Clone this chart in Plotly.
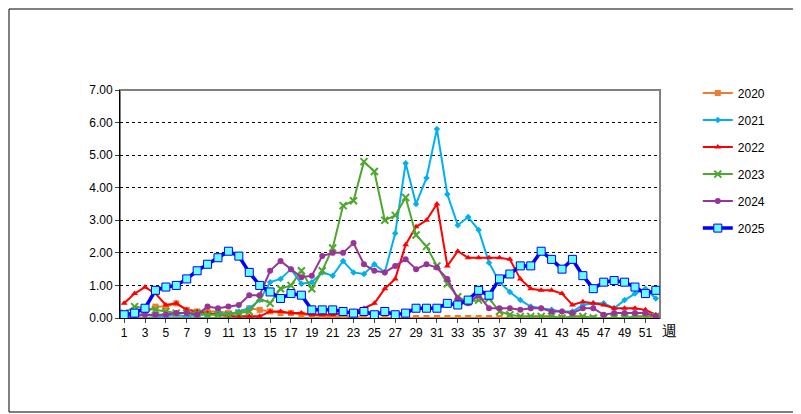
import plotly.graph_objects as go

weeks = list(range(1, 53))
s2020 = [0.1,0.1,0.15,0.35,0.35,0.45,0.25,0.2,0.2,0.2,0.15,0.15,0.3,0.25,0.2,0.15,0.15,0.1,0.1,0.05,0.05,0.05,0.05]+[0.0]*29
s2021 = [0.05,0.1,0.1,0.05,0.05,0.1,0.05,0.1,0.1,0.15,0.1,0.2,0.3,0.55,1.1,1.2,1.5,1.05,1.1,1.4,1.3,1.75,1.4,1.35,1.65,1.4,2.6,4.75,3.5,4.3,5.8,3.8,2.85,3.1,2.7,1.7,1.1,0.8,0.55,0.35,0.3,0.25,0.2,0.2,0.4,0.45,0.45,0.3,0.55,0.75,0.9,0.6]
s2022 = [0.45,0.75,0.95,0.75,0.4,0.45,0.25,0.2,0.15,0.1,0.05,0.05,0.05,0.05,0.2,0.2,0.15,0.15,0.1,0.1,0.1,0.15,0.2,0.3,0.45,0.9,1.2,2.25,2.8,3.0,3.5,1.6,2.05,1.85,1.85,1.85,1.85,1.8,1.2,0.9,0.85,0.85,0.75,0.4,0.5,0.45,0.4,0.3,0.3,0.3,0.25,0.1]
s2023 = [0.15,0.35,0.3,0.25,0.2,0.15,0.15,0.15,0.1,0.1,0.1,0.15,0.2,0.6,0.45,0.9,1.0,1.45,0.9,1.45,2.15,3.45,3.6,4.8,4.5,3.0,3.15,3.7,2.55,2.2,1.6,1.05,0.65,0.5,0.55,0.6,0.2,0.1,0.05,0.05,0.05,0.05,0.0,0.05,0.05,0.0,0.0,0.0,0.0,0.05,0.05,0.05]
s2024 = [0.0,0.05,0.1,0.1,0.1,0.15,0.15,0.1,0.35,0.3,0.35,0.4,0.7,0.7,1.45,1.75,1.5,1.25,1.3,1.9,2.0,2.0,2.3,1.65,1.45,1.4,1.6,1.8,1.5,1.65,1.55,1.2,0.6,0.45,0.7,0.3,0.3,0.3,0.25,0.3,0.3,0.2,0.2,0.15,0.3,0.3,0.1,0.15,0.15,0.15,0.15,0.05]
s2025 = [0.1,0.15,0.3,0.85,0.95,1.0,1.2,1.45,1.65,1.85,2.05,1.9,1.4,1.0,0.8,0.6,0.75,0.7,0.25,0.25,0.25,0.2,0.15,0.2,0.1,0.2,0.1,0.15,0.3,0.3,0.3,0.45,0.4,0.55,0.85,0.7,1.2,1.35,1.6,1.6,2.05,1.8,1.5,1.8,1.3,0.9,1.1,1.15,1.1,0.95,0.75,0.85]

series = [
    ("2020", s2020, "#ED7D31", "square", 6, 2, "#ED7D31", 0),
    ("2021", s2021, "#00B0F0", "diamond", 5, 2, "#00B0F0", 0),
    ("2022", s2022, "#FF0000", "triangle-up", 6, 2, "#FF0000", 0),
    ("2023", s2023, "#4EA72E", "x-thin", 7, 2, "#4EA72E", 2),
    ("2024", s2024, "#993399", "circle", 6, 2, "#993399", 0),
    ("2025", s2025, "#0000FF", "square", 8, 3.5, "#66FFFF", 1),
]
fig = go.Figure()
for name, ys, col, sym, sz, lw, fill, mlw in series:
    fig.add_trace(go.Scatter(x=weeks, y=ys, name=name, mode="lines+markers", legendgroup=name,
        line=dict(color=col, width=lw),
        marker=dict(symbol=sym, size=sz, color=fill, line=dict(color=col, width=mlw if mlw else 0))))

L, R, T, B = 112, 149, 82, 104
PW, PH = 801 - L - R, 414 - T - B
fig.update_layout(
    width=801, height=414, paper_bgcolor="white", plot_bgcolor="white",
    margin=dict(l=L, r=R, t=T, b=B),
    font=dict(family="Liberation Sans, Arial", size=12, color="black"),
    legend=dict(x=1.07, y=1.05, yanchor="top", tracegroupgap=8, font=dict(size=12)),
    xaxis=dict(range=[0.6, 52.4], tickvals=list(range(1, 52, 2)), showgrid=False,
               showline=True, linecolor="black", ticks="outside", ticklen=4),
    yaxis=dict(range=[0, 7], dtick=1, tickformat=".2f", showline=True, linecolor="black",
               gridcolor="black", griddash="dot", ticks="outside", ticklen=4, zeroline=False),
    shapes=[
        dict(type="rect", xref="paper", yref="paper", x0=0, x1=1, y0=0, y1=1, line=dict(color="#808080", width=2), layer="below"),
        dict(type="rect", xref="paper", yref="paper", x0=-(L-1)/PW, x1=1+(R-10)/PW, y0=-(B-10)/PH, y1=1+(T-1)/PH, line=dict(color="black", width=1)),
    ],
    annotations=[dict(text="週", xref="paper", yref="paper", x=1.0, y=0, xanchor="left", yanchor="top", showarrow=False, font=dict(size=15), yshift=-2)],
)
fig.write_html("out.html")
